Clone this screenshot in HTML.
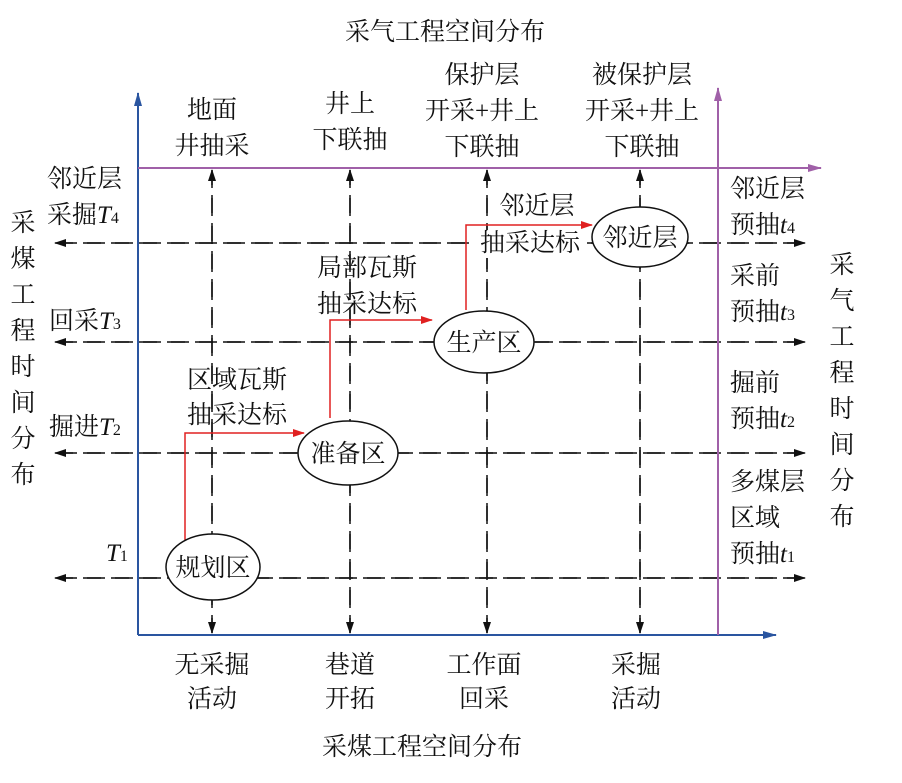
<!DOCTYPE html>
<html><head><meta charset="utf-8"><style>
body{margin:0;background:#fff;}
text{font-family:"Liberation Serif","Noto Serif CJK SC",serif;font-size:25px;fill:#111;}
.c{text-anchor:middle;}
</style></head><body>
<svg width="902" height="778" xmlns="http://www.w3.org/2000/svg">
<defs>
<marker id="ak" markerWidth="12" markerHeight="8" refX="11" refY="4" orient="auto" markerUnits="userSpaceOnUse"><path d="M0,0 L12,4 L0,8 Z" fill="#111"/></marker>
<marker id="ab" markerWidth="14" markerHeight="8" refX="13" refY="4" orient="auto" markerUnits="userSpaceOnUse"><path d="M0,0 L14,4 L0,8 Z" fill="#2a55a0"/></marker>
<marker id="ap" markerWidth="14" markerHeight="8" refX="13" refY="4" orient="auto" markerUnits="userSpaceOnUse"><path d="M0,0 L14,4 L0,8 Z" fill="#a060a8"/></marker>
<marker id="ar" markerWidth="12" markerHeight="8" refX="11" refY="4" orient="auto" markerUnits="userSpaceOnUse"><path d="M0,0 L12,4 L0,8 Z" fill="#e02020"/></marker>
</defs>
<g stroke="#111" stroke-width="1.5" stroke-dasharray="18,10" fill="none">
<line x1="805" y1="243" x2="55" y2="243" marker-end="url(#ak)"/>
<line x1="55" y1="243" x2="805" y2="243" marker-end="url(#ak)"/>
<line x1="805" y1="342" x2="55" y2="342" marker-end="url(#ak)"/>
<line x1="55" y1="342" x2="805" y2="342" marker-end="url(#ak)"/>
<line x1="805" y1="453" x2="55" y2="453" marker-end="url(#ak)"/>
<line x1="55" y1="453" x2="805" y2="453" marker-end="url(#ak)"/>
<line x1="805" y1="578" x2="55" y2="578" marker-end="url(#ak)"/>
<line x1="55" y1="578" x2="805" y2="578" marker-end="url(#ak)"/>
<line x1="212" y1="633" x2="212" y2="170" marker-end="url(#ak)"/>
<line x1="212" y1="170" x2="212" y2="633" marker-end="url(#ak)"/>
<line x1="350" y1="633" x2="350" y2="170" marker-end="url(#ak)"/>
<line x1="350" y1="170" x2="350" y2="633" marker-end="url(#ak)"/>
<line x1="487" y1="633" x2="487" y2="170" marker-end="url(#ak)"/>
<line x1="487" y1="170" x2="487" y2="633" marker-end="url(#ak)"/>
<line x1="640" y1="633" x2="640" y2="170" marker-end="url(#ak)"/>
<line x1="640" y1="170" x2="640" y2="633" marker-end="url(#ak)"/>
</g>
<line x1="138" y1="635" x2="138" y2="93" stroke="#2a55a0" stroke-width="2" marker-end="url(#ab)"/>
<line x1="138" y1="635" x2="776" y2="635" stroke="#2a55a0" stroke-width="2" marker-end="url(#ab)"/>
<line x1="718" y1="635" x2="718" y2="88" stroke="#a060a8" stroke-width="2" marker-end="url(#ap)"/>
<line x1="138" y1="168" x2="821" y2="168" stroke="#a060a8" stroke-width="2" marker-end="url(#ap)"/>
<rect x="474" y="230" width="110" height="28" fill="#fff"/>
<g stroke="#e02020" stroke-width="1.5" fill="none">
<polyline points="185,540 185,433 304,433" marker-end="url(#ar)"/>
<polyline points="330,418 330,320 432,320" marker-end="url(#ar)"/>
<polyline points="466,310 466,225 592,225" marker-end="url(#ar)"/>
</g>
<g fill="#fff" stroke="#111" stroke-width="1.5">
<ellipse cx="640" cy="237" rx="48" ry="30"/>
<ellipse cx="484" cy="342" rx="50" ry="31"/>
<ellipse cx="348" cy="453" rx="50" ry="32"/>
<ellipse cx="213" cy="567" rx="47" ry="33"/>
</g>
<text class="c" x="640" y="246">邻近层</text>
<text class="c" x="484" y="351">生产区</text>
<text class="c" x="348" y="462">准备区</text>
<text class="c" x="213" y="576">规划区</text>
<text class="c" x="445" y="40">采气工程空间分布</text>
<text class="c" x="422" y="755">采煤工程空间分布</text>
<text class="c" x="212" y="118">地面</text><text class="c" x="212" y="154">井抽采</text>
<text class="c" x="350" y="112">井上</text><text class="c" x="350" y="148">下联抽</text>
<text class="c" x="482" y="83">保护层</text><text class="c" x="482" y="119">开采+井上</text><text class="c" x="482" y="155">下联抽</text>
<text class="c" x="642" y="83">被保护层</text><text class="c" x="642" y="119">开采+井上</text><text class="c" x="642" y="155">下联抽</text>
<text class="c" x="212" y="673">无采掘</text><text class="c" x="212" y="707">活动</text>
<text class="c" x="350" y="673">巷道</text><text class="c" x="350" y="707">开拓</text>
<text class="c" x="484" y="673">工作面</text><text class="c" x="484" y="707">回采</text>
<text class="c" x="636" y="673">采掘</text><text class="c" x="636" y="707">活动</text>
<text class="c" x="537" y="214">邻近层</text><text class="c" x="530" y="251">抽采达标</text>
<text class="c" x="367" y="276">局部瓦斯</text><text class="c" x="367" y="312">抽采达标</text>
<text class="c" x="237" y="388">区域瓦斯</text><text class="c" x="237" y="423">抽采达标</text>
<text x="47" y="187">邻近层</text><text x="47" y="223">采掘<tspan font-style="italic">T</tspan><tspan font-size="16">4</tspan></text>
<text x="49" y="329">回采<tspan font-style="italic">T</tspan><tspan font-size="16">3</tspan></text>
<text x="49" y="435">掘进<tspan font-style="italic">T</tspan><tspan font-size="16">2</tspan></text>
<text x="106" y="561"><tspan font-style="italic">T</tspan><tspan font-size="16">1</tspan></text>
<text x="730" y="197">邻近层</text><text x="730" y="233">预抽<tspan font-style="italic">t</tspan><tspan font-size="16">4</tspan></text>
<text x="730" y="284">采前</text><text x="730" y="320">预抽<tspan font-style="italic">t</tspan><tspan font-size="16">3</tspan></text>
<text x="730" y="391">掘前</text><text x="730" y="427">预抽<tspan font-style="italic">t</tspan><tspan font-size="16">2</tspan></text>
<text x="730" y="490">多煤层</text><text x="730" y="526">区域</text><text x="730" y="562">预抽<tspan font-style="italic">t</tspan><tspan font-size="16">1</tspan></text>
<text class="c" x="23" y="231">采</text><text class="c" x="23" y="267">煤</text><text class="c" x="23" y="303">工</text><text class="c" x="23" y="339">程</text><text class="c" x="23" y="375">时</text><text class="c" x="23" y="411">间</text><text class="c" x="23" y="447">分</text><text class="c" x="23" y="483">布</text>
<text class="c" x="842" y="273">采</text><text class="c" x="842" y="309">气</text><text class="c" x="842" y="345">工</text><text class="c" x="842" y="381">程</text><text class="c" x="842" y="417">时</text><text class="c" x="842" y="453">间</text><text class="c" x="842" y="489">分</text><text class="c" x="842" y="525">布</text>
</svg>
</body></html>
